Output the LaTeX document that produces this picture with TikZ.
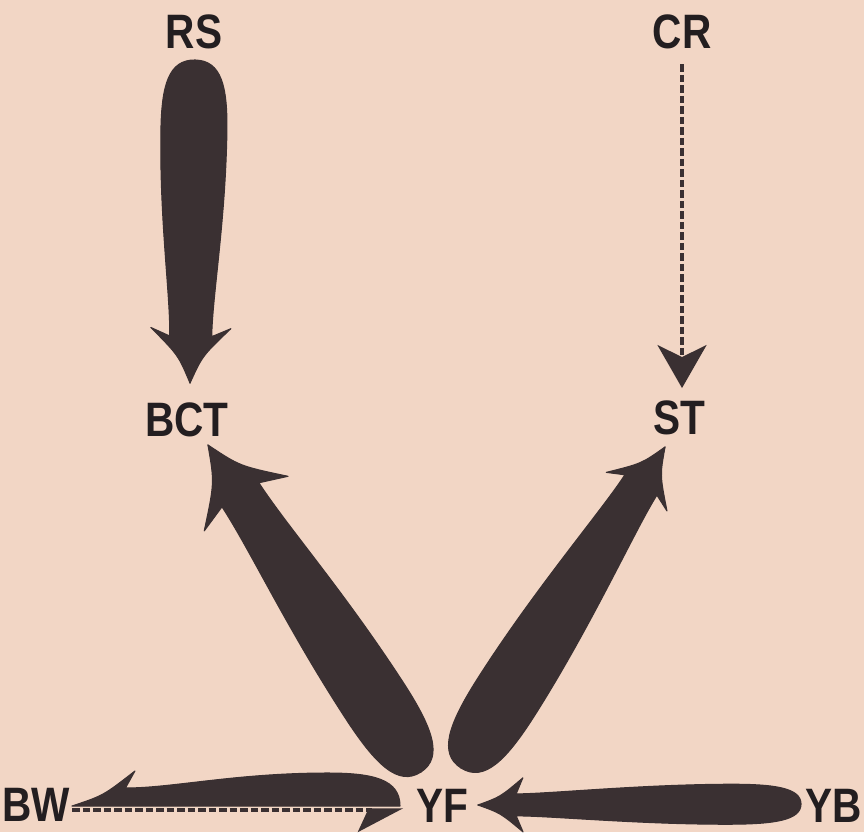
\documentclass[tikz,border=0pt]{standalone}
\usepackage{fontspec}
\setmainfont{Liberation Sans}[FakeStretch=0.84]
\usepackage{tikz}
\usetikzlibrary{arrows.meta}

\definecolor{paper}{RGB}{242,214,197}
\definecolor{ink}{RGB}{58,48,50}
\definecolor{txt}{RGB}{35,30,32}

\tikzset{
  lbl/.style={font=\bfseries\fontsize{27.5}{30}\selectfont, text=txt, inner sep=0pt},
  leaf/.style={fill=ink, draw=ink, line width=0.6pt, line join=round},
  dashline/.style={draw=ink, line width=0.07cm, dash pattern=on 0.15cm off 0.06cm}
}

% one half of a tapered leaf arrow, from tail #2 to tip #3
% #4 body, #5 neck, #6 barb (half widths), #7 head length, all in px
\newcommand\leafside[7][]{%
  \pgfpointdiff{\pgfpointanchor{#2}{center}}{\pgfpointanchor{#3}{center}}%
  \pgfgetlastxy{\leafdx}{\leafdy}%
  \pgfmathsetmacro\leafang{atan2(\leafdy,\leafdx)}%
  \pgfmathsetmacro\leaflen{veclen(\leafdx,\leafdy)/0.569055}%
  \begin{scope}[shift={(#2)}, rotate=\leafang, x=0.02cm, y=0.02cm, #1]
    \path[leaf] (0,0) .. controls (0,0.8*#4) and (0.08*\leaflen,#4) .. (0.22*\leaflen,#4)
      .. controls (0.5*\leaflen,#4) and (\leaflen-1.6*#7,#5) .. (\leaflen-0.85*#7,#5)
      -- (\leaflen-#7,#6) .. controls (\leaflen-0.5*#7,0.3*#6) .. (\leaflen,0) -- cycle;
  \end{scope}}
\newcommand\leafarrow[6]{%
  \leafside{#1}{#2}{#3}{#4}{#5}{#6}\leafside[yscale=-1]{#1}{#2}{#3}{#4}{#5}{#6}}

\begin{document}
\begin{tikzpicture}[x=0.02cm, y=-0.02cm]
  \fill[paper] (0,0) rectangle (864,832);
  \useasboundingbox (0,0) rectangle (864,832);

  % labels
  \node[lbl] (RS)  at (194,32)  {RS};
  \node[lbl] (CR)  at (682,32)  {CR};
  \node[lbl] (BCT) at (187,420) {BCT};
  \node[lbl] (ST)  at (679,418) {ST};
  \node[lbl] (BW)  at (36,805)  {BW};
  \node[lbl] (YF)  at (442,806) {YF};
  \node[lbl] (YB)  at (834,806) {YB};

  % ends of the leaf arrows
  \coordinate (rs tail)  at (195,60);
  \coordinate (rs tip)   at (190,383);
  \coordinate (bct tail) at (421,772);
  \coordinate (bct tip)  at (208,445);
  \coordinate (st tail)  at (461,768);
  \coordinate (st tip)   at (665,447);
  \coordinate (yb tail)  at (801,804);
  \coordinate (yb tip)   at (478,805);
  \coordinate (bw tail)  at (400,806);
  \coordinate (bw tip)   at (72,806);

  % leaf arrows
  \leafarrow{rs tail}{rs tip}{33}{21}{40}{55}
  \leafarrow{bct tail}{bct tip}{34}{22}{50}{70}
  \leafarrow{st tail}{st tip}{34}{19}{36}{53}
  \leafarrow{yb tail}{yb tip}{20}{11}{27}{45}
  \leafside[yscale=-1]{bw tail}{bw tip}{33}{18}{35}{63}

  % dashed arrows
  \draw[dashline, shorten <=0.3cm, shorten >=0.25cm,
    -{Stealth[length=0.86cm, width=0.98cm, inset=0.24cm]}]
    (CR.south) -- (CR.south |- ST.north);
  \draw[dashline, shorten <=0.04cm, shorten >=0.25cm,
    -{Stealth[right, length=0.84cm, width=0.88cm, inset=0.2cm]}]
    ([yshift=-0.1cm]BW.east) -- ([yshift=-0.1cm]BW.east -| YF.west);
\end{tikzpicture}
\end{document}
